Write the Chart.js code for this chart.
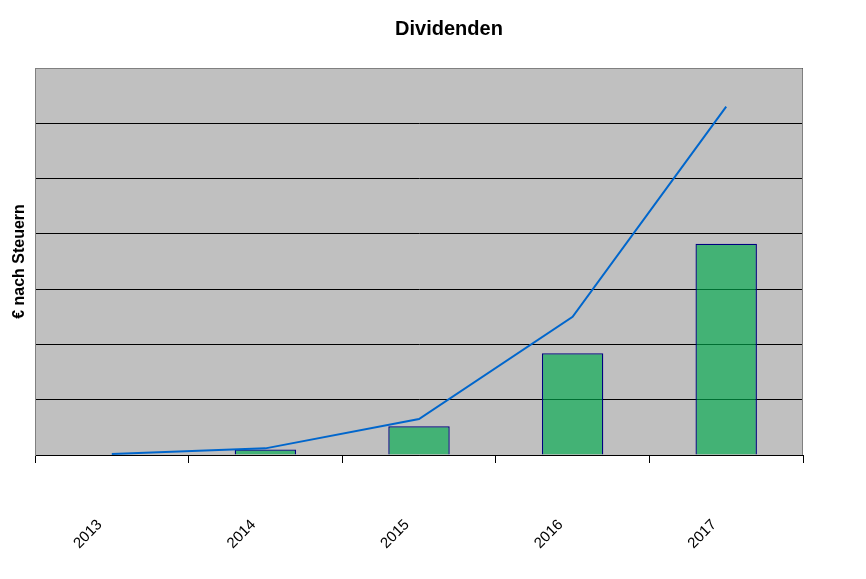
<!DOCTYPE html>
<html>
<head>
<meta charset="utf-8">
<script src="https://cdn.jsdelivr.net/npm/chart.js@4"></script>
<style>
html,body{margin:0;padding:0;background:#fff;}
#wrap{width:866px;height:579px;position:relative;}
</style>
</head>
<body>
<div id="wrap"><canvas id="c" width="866" height="579"></canvas></div>
<script>
const chartTitle = 'Dividenden';
const yAxisTitle = '€ nach Steuern';
const categories = ['2013', '2014', '2015', '2016', '2017'];
const barValues = [0, 0.10, 0.52, 1.84, 3.82];
const lineValues = [0.02, 0.12, 0.65, 2.50, 6.30];
const yMin = 0, yMax = 7, yStep = 1;

const FONT = '"Liberation Sans", Arial, sans-serif';

const plotBg = {
  id: 'plotBg',
  beforeDraw(chart) {
    const {ctx, chartArea: a} = chart;
    ctx.save();
    ctx.fillStyle = '#C0C0C0';
    ctx.fillRect(a.left, a.top, a.right - a.left, a.bottom - a.top);
    ctx.restore();
  },
  afterDraw(chart) {
    const {ctx, chartArea: a} = chart;
    ctx.save();
    ctx.strokeStyle = '#808080';
    ctx.lineWidth = 1;
    ctx.beginPath();
    ctx.moveTo(a.left + 0.5, a.bottom);
    ctx.lineTo(a.left + 0.5, a.top + 0.5);
    ctx.lineTo(a.right - 0.5, a.top + 0.5);
    ctx.lineTo(a.right - 0.5, a.bottom);
    ctx.stroke();
    ctx.font = 'bold 20px ' + FONT;
    ctx.fillStyle = '#000';
    ctx.textAlign = 'center';
    ctx.textBaseline = 'middle';
    ctx.fillText(chartTitle, 449, 29);
    ctx.restore();
  }
};

new Chart(document.getElementById('c'), {
  data: {
    labels: categories,
    datasets: [
      {
        type: 'line',
        data: lineValues,
        borderColor: '#0066CC',
        borderWidth: 2,
        pointRadius: 0,
        tension: 0,
        fill: false,
        order: 0
      },
      {
        type: 'bar',
        data: barValues,
        backgroundColor: 'rgba(0,170,77,0.65)',
        borderColor: '#000080',
        borderWidth: 1.3,
        barPercentage: 0.4,
        categoryPercentage: 1.0,
        order: 1
      }
    ]
  },
  plugins: [plotBg],
  options: {
    responsive: false,
    animation: false,
    devicePixelRatio: 1,
    layout: { padding: { top: 68, right: 63, left: 0, bottom: 0 } },
    plugins: { legend: { display: false }, tooltip: { enabled: false }, title: { display: false } },
    scales: {
      x: {
        offset: true,
        grid: { offset: true, drawOnChartArea: false, color: '#000', tickLength: 8, tickColor: '#000' },
        border: { color: '#000', width: 1 },
        ticks: {
          color: '#000',
          font: { family: FONT, size: 15 },
          minRotation: 45, maxRotation: 45,
          padding: 53,
          labelOffset: -12
        },
        afterFit(scale) { scale.height = 124; }
      },
      y: {
        min: yMin, max: yMax,
        ticks: { display: false, stepSize: yStep },
        grid: { color: '#000', lineWidth: 1, drawTicks: false },
        border: { color: '#808080', width: 1 },
        title: {
          display: true,
          text: yAxisTitle,
          color: '#000',
          font: { family: FONT, size: 16, weight: 'bold' },
          padding: { top: 10, bottom: 0 }
        },
        afterFit(scale) { scale.width = 35; }
      }
    }
  }
});
</script>
</body>
</html>
